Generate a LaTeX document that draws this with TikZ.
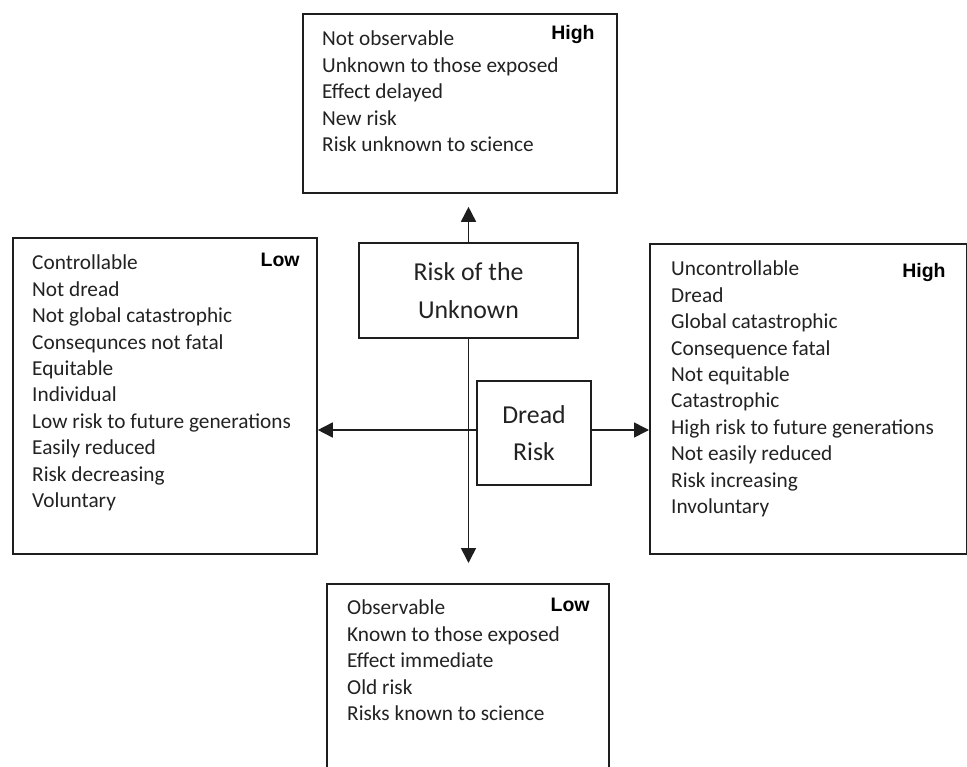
\documentclass[tikz,border=0pt]{standalone}
\usepackage{fontspec}
\setmainfont{Carlito}
\newfontfamily\levelfont{Liberation Sans}
\usetikzlibrary{arrows.meta, positioning}
\definecolor{lineDark}{HTML}{1E1E1E}
\definecolor{textDark}{HTML}{222222}

\begin{document}
\begin{tikzpicture}[x=1pt, y=-1pt,
    box/.style={draw=lineDark, line width=1.8pt, inner sep=0pt},
    items/.style={align=left, inner sep=0pt, text=textDark,
      font=\fontsize{21.3}{26.4}\selectfont},
    level/.style={inner sep=0pt, text=black, font=\levelfont\bfseries\fontsize{19.5}{22}\selectfont},
    factor/.style={box, align=center, text=textDark, font=\fontsize{25.8}{37.5}\selectfont},
    arr/.style={draw=lineDark, line width=1.6pt, -{Triangle[length=15pt, width=15pt]}}]
  \clip (0,0) rectangle (967,767);

  % factor boxes in the middle
  \node[factor, minimum width=219pt, minimum height=95pt] (unknown) at (468.5,290.5) {Risk of the\\Unknown};
  \node[factor, minimum width=114pt, minimum height=104pt] (dread) at (534,433) {Dread\\Risk};

  % outer boxes
  \node[box, anchor=north west, minimum width=314pt, minimum height=179pt] (hiUnknown) at (302,13) {};
  \node[box, anchor=north west, minimum width=304pt, minimum height=316pt] (loDread) at (12,237) {};
  \node[box, anchor=north west, minimum width=317pt, minimum height=310pt] (hiDread) at (649,243) {};
  \node[box, anchor=north west, minimum width=282pt, minimum height=200pt] (loUnknown) at (326,583) {};

  \node[items, below right=18pt and 20pt of hiUnknown.north west] (hiUnknownList)
    {Not observable\\Unknown to those exposed\\Effect delayed\\New risk\\Risk unknown to science};
  \node[level, below left=12pt and 23pt of hiUnknown.north east] (hiUnknownLevel) {High};

  \node[items, below right=18pt and 20pt of loDread.north west] (loDreadList)
    {Controllable\\Not dread\\Not global catastrophic\\Consequnces not fatal\\Equitable\\Individual\\
     Low risk to future generations\\Easily reduced\\Risk decreasing\\Voluntary};
  \node[level, below left=16pt and 18pt of loDread.north east] (loDreadLevel) {Low};

  \node[items, below right=18pt and 22pt of hiDread.north west] (hiDreadList)
    {Uncontrollable\\Dread\\Global catastrophic\\Consequence fatal\\Not equitable\\Catastrophic\\
     High risk to future generations\\Not easily reduced\\Risk increasing\\Involuntary};
  \node[level, below left=20pt and 22pt of hiDread.north east] (hiDreadLevel) {High};

  \node[items, below right=17pt and 21pt of loUnknown.north west] (loUnknownList)
    {Observable\\Known to those exposed\\Effect immediate\\Old risk\\Risks known to science};
  \node[level, below left=15pt and 20pt of loUnknown.north east] (loUnknownLevel) {Low};

  % axes
  \coordinate (dreadW) at ([yshift=3pt]dread.west);
  \coordinate (dreadE) at ([yshift=3pt]dread.east);
  \draw[arr, shorten >=13pt] (unknown.north) -- (unknown.north |- hiUnknown.south);
  \draw[arr, shorten >=20pt] (unknown.south) -- (unknown.south |- loUnknown.north);
  \draw[arr] (dreadW) -- (loDread.east |- dreadW);
  \draw[arr] (dreadE) -- (hiDread.west |- dreadE);
\end{tikzpicture}
\end{document}
